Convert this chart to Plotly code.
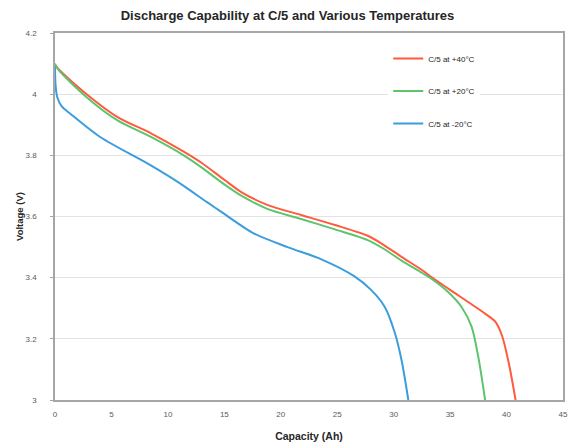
import plotly.graph_objects as go

# Capacity (Ah) / Voltage (V)
cap_p40 = [0, 0.5, 2.8, 5.5, 8.5, 11.4, 13, 15, 16.5, 18.8, 21.8, 24.8, 27.7, 29, 30.7, 32.5, 33.4, 35, 37.8, 39.0, 39.6, 40.2, 40.8]
volt_p40 = [4.095, 4.075, 4.00, 3.926, 3.872, 3.812, 3.775, 3.72, 3.68, 3.638, 3.605, 3.572, 3.537, 3.51, 3.468, 3.425, 3.40, 3.36, 3.29, 3.256, 3.21, 3.12, 3.0]

cap_p20 = [0, 0.3, 2.8, 5.5, 8.5, 11.4, 13, 15, 16.5, 18.8, 21.8, 24.8, 27.7, 29, 30.7, 32.5, 33.4, 34.8, 36.0, 36.9, 37.5, 38.1]
volt_p20 = [4.10, 4.08, 3.99, 3.915, 3.86, 3.80, 3.76, 3.705, 3.668, 3.625, 3.592, 3.558, 3.523, 3.497, 3.456, 3.416, 3.395, 3.354, 3.305, 3.24, 3.14, 3.0]

cap_m20 = [0, 0.05, 0.2, 0.6, 1.33, 4.0, 8.45, 11, 13.5, 14.7, 17.6, 20.6, 23.6, 26.5, 28.0, 29.2, 30.1, 30.7, 31.3]
volt_m20 = [4.09, 4.03, 3.99, 3.96, 3.937, 3.86, 3.768, 3.71, 3.646, 3.616, 3.545, 3.50, 3.46, 3.405, 3.36, 3.305, 3.22, 3.13, 3.0]

series_names = ["C/5 at +40°C", "C/5 at +20°C", "C/5 at -20°C"]
series_colors = ["#FF5A3C", "#5CC46E", "#3C9DDE"]
x_ticks = [0, 5, 10, 15, 20, 25, 30, 35, 40, 45]
y_ticks = [3, 3.2, 3.4, 3.6, 3.8, 4, 4.2]

FONT = "Liberation Sans"
fig = go.Figure()
for name, xs, ys, col in zip(series_names, [cap_p40, cap_p20, cap_m20],
                             [volt_p40, volt_p20, volt_m20], series_colors):
    fig.add_trace(go.Scatter(x=xs, y=ys, mode="lines", name=name, legendgroup=name,
                             line=dict(color=col, width=2, shape="spline", smoothing=0.8)))

fig.update_layout(
    width=575, height=446,
    margin=dict(l=55, r=12, t=33, b=46),
    paper_bgcolor="white", plot_bgcolor="white",
    font=dict(family=FONT, color="#404040"),
    title=dict(text="<b>Discharge Capability at C/5 and Various Temperatures</b>",
               x=0.5, xref="container", xanchor="center", y=0.966, yref="container", yanchor="middle",
               font=dict(size=13, color="#262626", family=FONT)),
    showlegend=True,
    legend=dict(x=0.656, y=0.97, xanchor="left", yanchor="top",
                bgcolor="white", font=dict(size=8, color="#262626", family=FONT),
                tracegroupgap=13.5, itemwidth=30),
    xaxis=dict(range=[0, 45], tickvals=x_ticks, showgrid=False, zeroline=False, automargin=False,
               showline=True, linecolor="#A6A6A6", linewidth=1.5, mirror=True,
               tickfont=dict(size=8, color="#595959"), ticks="", ticklabelstandoff=6,
               title=dict(text="<b>Capacity (Ah)</b>", font=dict(size=10.5, color="#262626"), standoff=14)),
    yaxis=dict(range=[3, 4.2], tickvals=y_ticks, showgrid=True, gridcolor="#E3E3E3", gridwidth=1,
               zeroline=False, showline=True, linecolor="#A6A6A6", linewidth=1.5, mirror=True, automargin=False,
               tickfont=dict(size=8, color="#595959"), ticks="outside", ticklen=3, tickcolor="#A6A6A6",
               ticklabelstandoff=12,
               title=dict(text="<b>Voltage (V)</b>", font=dict(size=9.5, color="#262626"), standoff=0)),
)

fig.write_html("out.html", config={"displayModeBar": False},
               post_script="document.body.style.margin='0';document.body.style.padding='0';")
